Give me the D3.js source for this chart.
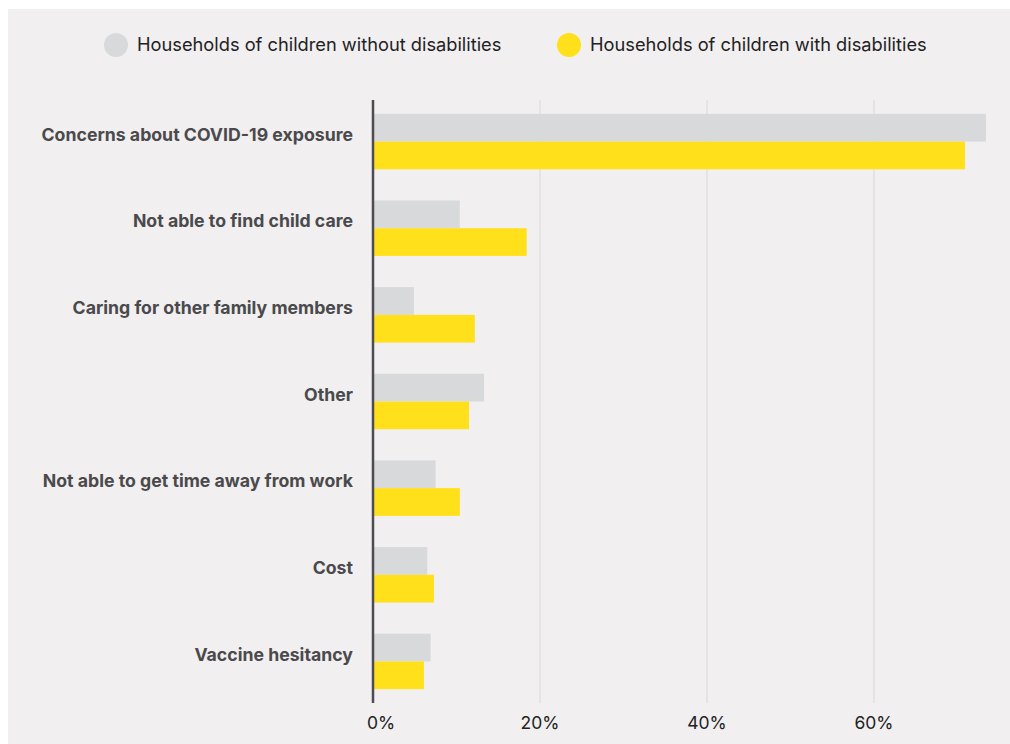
<!DOCTYPE html>
<html>
<head>
<meta charset="utf-8">
<script src="https://cdn.jsdelivr.net/npm/d3@7"></script>
<style>
  body { margin: 0; background: #fff; }
  svg text { font-family: Inter, "Noto Sans", sans-serif; }
</style>
</head>
<body>
<div id="chart"></div>
<script>
// data
const categories = [
  "Concerns about COVID-19 exposure",
  "Not able to find child care",
  "Caring for other family members",
  "Other",
  "Not able to get time away from work",
  "Cost",
  "Vaccine hesitancy"
];
const withoutDisabilities = [73.4, 10.4, 4.9, 13.3, 7.5, 6.5, 6.9];
const withDisabilities = [70.9, 18.4, 12.2, 11.5, 10.4, 7.3, 6.1];
const seriesNames = ["Households of children without disabilities", "Households of children with disabilities"];
const seriesColors = ["#d8d9da", "#ffe01b"];
const tickValues = [0, 20, 40, 60];

const W = 1010, H = 744;
const margin = { top: 100, right: 24, bottom: 41, left: 373 };

const svg = d3.select("#chart").append("svg")
  .attr("width", W)
  .attr("height", H);

// panel background
svg.append("rect")
  .attr("x", 8).attr("y", 9)
  .attr("width", W - 8).attr("height", H - 9)
  .attr("fill", "#f1eff0");

const x = d3.scaleLinear()
  .domain([0, 60])
  .range([margin.left, margin.left + 501]);

const y = d3.scaleBand()
  .domain(categories)
  .range([margin.top, H - margin.bottom])
  .paddingInner(0.36)
  .paddingOuter(0.16);

const sub = d3.scaleBand()
  .domain([0, 1])
  .range([0, y.bandwidth()]);

// gridlines
svg.append("g")
  .selectAll("line")
  .data(tickValues.slice(1))
  .enter().append("line")
  .attr("x1", d => x(d)).attr("x2", d => x(d))
  .attr("y1", margin.top).attr("y2", H - margin.bottom)
  .attr("stroke", "#dddcdd")
  .attr("stroke-width", 1.2);

// bars
const rows = categories.map((c, i) => ({ name: c, vals: [withoutDisabilities[i], withDisabilities[i]] }));
const groups = svg.append("g").selectAll("g")
  .data(rows)
  .enter().append("g")
  .attr("transform", d => `translate(0,${y(d.name)})`);

groups.selectAll("rect")
  .data(d => d.vals.map((v, k) => ({ v, k })))
  .enter().append("rect")
  .attr("x", x(0))
  .attr("y", d => sub(d.k))
  .attr("width", d => x(d.v) - x(0))
  .attr("height", sub.bandwidth())
  .attr("fill", d => seriesColors[d.k]);

// y axis line
svg.append("line")
  .attr("x1", x(0)).attr("x2", x(0))
  .attr("y1", margin.top).attr("y2", H - margin.bottom)
  .attr("stroke", "#4d4d4f")
  .attr("stroke-width", 2.5);

// category labels
svg.append("g").selectAll("text")
  .data(categories)
  .enter().append("text")
  .attr("x", 353)
  .attr("y", d => y(d) + y.bandwidth() / 2 - 7)
  .attr("text-anchor", "end")
  .attr("dy", "0.35em")
  .attr("font-size", 17.7)
  .attr("font-weight", 700)
  .attr("fill", "#4a4a4c")
  .text(d => d);

// x tick labels
svg.append("g").selectAll("text")
  .data(tickValues)
  .enter().append("text")
  .attr("x", d => x(d) + (d === 0 ? 8 : 0))
  .attr("y", 729)
  .attr("text-anchor", "middle")
  .attr("font-size", 17.5)
  .attr("fill", "#222")
  .text(d => d + "%");

// legend
const legendX = [116, 569];
const legend = svg.append("g").selectAll("g")
  .data(seriesNames)
  .enter().append("g")
  .attr("transform", (d, i) => `translate(${legendX[i]},45)`);

legend.append("circle")
  .attr("r", 12)
  .attr("fill", (d, i) => seriesColors[i]);

legend.append("text")
  .attr("x", 21)
  .attr("dy", "0.35em")
  .attr("font-size", 18.25)
  .attr("fill", "#222")
  .text(d => d);
</script>
</body>
</html>
